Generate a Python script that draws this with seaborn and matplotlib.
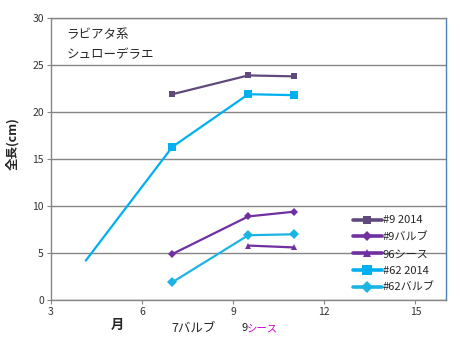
import matplotlib
matplotlib.use("Agg")
import matplotlib.pyplot as plt
from matplotlib.lines import Line2D
import seaborn as sns
import pandas as pd

sns.set_theme(style="white")
plt.rcParams['font.family'] = ['Noto Sans CJK JP', 'DejaVu Sans']

# data
x9_2014 = [7, 9.5, 11]
y9_2014 = [21.9, 23.9, 23.8]
x9_bulb = [7, 9.5, 11]
y9_bulb = [4.9, 8.9, 9.4]
x96_sheath = [9.5, 11]
y96_sheath = [5.8, 5.6]
x62_2014 = [4.15, 7, 9.5, 11]
y62_2014 = [4.2, 16.3, 21.9, 21.8]
x62_bulb = [7, 9.5, 11]
y62_bulb = [1.9, 6.9, 7.0]

labels = ["#9 2014", "#9バルブ", "96シース", "#62 2014", "#62バルブ"]
colors = ["#604A7B", "#7030A0", "#7030A0", "#00B0F0", "#1CB4E3"]
markers = ["s", "D", "^", "s", "D"]
msizes = [5, 4, 5, 6, 5]

xticks = [3, 6, 9, 12, 15]
yticks = [0, 5, 10, 15, 20, 25, 30]

fig = plt.figure(figsize=(4.62, 3.41), dpi=100)
ax = fig.add_axes([0.110, 0.120, 0.855, 0.827])

series = [(x9_2014, y9_2014), (x9_bulb, y9_bulb), (x96_sheath, y96_sheath),
          (x62_2014, y62_2014), (x62_bulb, y62_bulb)]
for i, (xs, ys) in enumerate(series):
    df = pd.DataFrame({"x": xs, "y": ys})
    kw = {}
    if labels[i] == "#62 2014":
        kw["markevery"] = [1, 2, 3]
    sns.lineplot(data=df, x="x", y="y", ax=ax, color=colors[i], marker=markers[i],
                 markersize=msizes[i], markeredgewidth=0, linewidth=1.6,
                 sort=False, estimator=None, legend=False, zorder=3, **kw)

ax.set_xlim(3, 16)
ax.set_ylim(0, 30)
ax.set_xticks(xticks)
ax.set_yticks(yticks)
ax.set_xticklabels([str(t) for t in xticks], fontsize=7.5, color="#333333")
ax.set_yticklabels([str(t) for t in yticks], fontsize=7.5, color="#333333")
ax.yaxis.grid(True, color="#868686", linewidth=1.0)
ax.xaxis.grid(False)
ax.set_axisbelow(True)
ax.tick_params(axis="both", direction="out", length=3, width=0.8, color="#868686", pad=2, left=True, bottom=True)
for s in ["left", "bottom", "top"]:
    ax.spines[s].set_color("#868686")
    ax.spines[s].set_linewidth(1.0)
ax.spines["right"].set_color("#4F7EB8")
ax.spines["right"].set_linewidth(1.0)
ax.set_xlabel("")
ax.set_ylabel("")

fig.text(13/462, 1 - 144/341, "全長(cm)", fontsize=9, fontweight="bold", rotation=90,
         ha="center", va="center")

ax.text(0.04, 0.965, "ラビアタ系", transform=ax.transAxes, fontsize=9, va="top", ha="left")
ax.text(0.04, 0.895, "シュローデラエ", transform=ax.transAxes, fontsize=9, va="top", ha="left")

fig.text(117/462, 1 - 325/341, "月", fontsize=9.5, fontweight="bold", ha="center", va="center")
fig.text(171/462, 1 - 328/341, "7バルブ", fontsize=9, ha="left", va="center")
fig.text(241/462, 1 - 328/341, "9", fontsize=8, ha="left", va="center")
fig.text(247/462, 1 - 328/341, "シース", fontsize=7.5, ha="left", va="center", color="#CC00CC")

handles = [Line2D([0], [0], color=c, marker=m, markersize=ms + 1, markeredgewidth=0, linewidth=2.6)
           for c, m, ms in zip(colors, markers, msizes)]
leg = ax.legend(handles, labels, loc="upper left", bbox_to_anchor=(0.75, 0.32),
                frameon=False, fontsize=8, handlelength=2.6, handletextpad=0.1,
                labelspacing=0.62, borderpad=0)

fig.savefig("out.png", dpi=100)
